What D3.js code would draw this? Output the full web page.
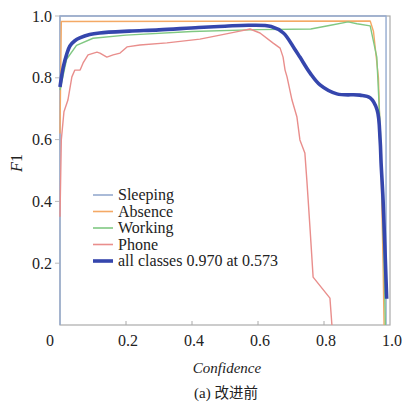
<!DOCTYPE html>
<html lang="en">
<meta charset="UTF-8">
<script src="https://d3js.org/d3.v7.min.js"></script>
<style>
body { margin: 0; background: #fff; }
svg text { font-family: 'Liberation Serif', serif !important; }
svg text tspan.cjk { font-family: 'Noto Sans CJK SC', sans-serif !important; }
</style>
<body>
<svg width="404" height="411" font-family="Liberation Serif"></svg>
<script>
// values: [confidence, F1]
const sleeping = [[0, 0], [0, 1.0], [0.988, 1.0], [0.988, 0]];
const absence = [[0, 0.62], [0.004, 0.982], [0.94, 0.984], [0.95, 0.95], [0.965, 0.8],
  [0.973, 0.5], [0.979, 0.2], [0.982, 0]];
const working = [[0, 0.76], [0.02, 0.86], [0.05, 0.905], [0.1, 0.928], [0.2, 0.938],
  [0.4, 0.95], [0.6, 0.956], [0.76, 0.958], [0.82, 0.97], [0.873, 0.981], [0.9, 0.975],
  [0.94, 0.968], [0.96, 0.867], [0.972, 0.6], [0.982, 0.2], [0.986, 0]];
const phone = [[0, 0.35], [0.004, 0.6], [0.012, 0.69], [0.024, 0.728], [0.036, 0.803],
  [0.045, 0.825], [0.061, 0.825], [0.07, 0.848], [0.085, 0.874], [0.112, 0.883],
  [0.121, 0.88], [0.142, 0.867], [0.161, 0.874], [0.182, 0.88], [0.203, 0.9],
  [0.242, 0.906], [0.324, 0.913], [0.424, 0.925], [0.485, 0.938], [0.545, 0.951],
  [0.576, 0.958], [0.606, 0.945], [0.645, 0.913], [0.667, 0.896], [0.676, 0.867],
  [0.682, 0.825], [0.688, 0.803], [0.703, 0.728], [0.718, 0.673], [0.727, 0.599],
  [0.742, 0.557], [0.748, 0.469], [0.752, 0.405], [0.758, 0.307], [0.767, 0.155],
  [0.818, 0.087], [0.824, 0]];
const allClasses = [[0, 0.77], [0.01, 0.835], [0.02, 0.875], [0.03, 0.903], [0.045, 0.92],
  [0.06, 0.929], [0.09, 0.94], [0.12, 0.945], [0.21, 0.951], [0.3, 0.955], [0.42, 0.963],
  [0.5, 0.967], [0.573, 0.970], [0.64, 0.966], [0.677, 0.945], [0.71, 0.895],
  [0.727, 0.867], [0.758, 0.815], [0.788, 0.777], [0.839, 0.748], [0.909, 0.744],
  [0.94, 0.735], [0.961, 0.696], [0.97, 0.599], [0.973, 0.524], [0.979, 0.405],
  [0.99, 0.085]];

const seriesNames = ['Sleeping', 'Absence', 'Working', 'Phone', 'all classes 0.970 at 0.573'];
const seriesData = [sleeping, absence, working, phone, allClasses];
const colors = ['#95abcf', '#f4a965', '#80c882', '#e98e8c', '#3546ad'];
const widths = [1.4, 1.4, 1.4, 1.4, 3.6];

const xTicks = [0, 0.2, 0.4, 0.6, 0.8, 1.0];
const yTicks = [0.2, 0.4, 0.6, 0.8, 1.0];

const svg = d3.select('svg');
const x = d3.scaleLinear().domain([0, 1]).range([60, 390]);
const y = d3.scaleLinear().domain([0, 1]).range([325, 16]);

// frame
svg.append('rect')
  .attr('x', x(0)).attr('y', y(1))
  .attr('width', x(1) - x(0)).attr('height', y(0) - y(1))
  .attr('fill', 'none').attr('stroke', '#aaa').attr('stroke-width', 1.2);

// x ticks (inside)
svg.append('g').selectAll('line').data(xTicks.slice(1, 5)).join('line')
  .attr('x1', d => x(d)).attr('x2', d => x(d))
  .attr('y1', y(0)).attr('y2', y(0) - 4)
  .attr('stroke', '#aaa');
svg.append('g').selectAll('text').data(xTicks).join('text')
  .attr('x', d => d === 0 ? x(d) - 10 : x(d) + 2)
  .attr('y', 346)
  .attr('text-anchor', 'middle')
  .attr('font-size', 16)
  .attr('fill', '#222')
  .text(d => d === 0 ? '0' : d3.format('.1f')(d));

// y ticks (outside)
svg.append('g').selectAll('line').data(yTicks).join('line')
  .attr('x1', x(0) - 5).attr('x2', x(0))
  .attr('y1', d => y(d)).attr('y2', d => y(d))
  .attr('stroke', '#bbb');
svg.append('g').selectAll('text').data(yTicks).join('text')
  .attr('x', 52)
  .attr('y', d => y(d) + 5.5)
  .attr('text-anchor', 'end')
  .attr('font-size', 16)
  .attr('fill', '#222')
  .text(d => d3.format('.1f')(d));

// curves
const line = d3.line().x(d => x(d[0])).y(d => y(d[1]));
const smooth = d3.line().x(d => x(d[0])).y(d => y(d[1])).curve(d3.curveCatmullRom);
svg.append('g').selectAll('path').data(seriesData).join('path')
  .attr('d', (d, i) => i === 4 ? smooth(d) : line(d))
  .attr('fill', 'none')
  .attr('stroke', (d, i) => colors[i])
  .attr('stroke-width', (d, i) => widths[i])
  .attr('stroke-linejoin', 'round');

// legend
const legend = svg.append('g');
seriesNames.forEach((name, i) => {
  const ly = 195 + i * 16.5;
  legend.append('line')
    .attr('x1', 93).attr('x2', 113).attr('y1', ly).attr('y2', ly)
    .attr('stroke', colors[i]).attr('stroke-width', i === 4 ? 3.6 : 1.6);
  legend.append('text')
    .attr('x', 118).attr('y', ly + 5)
    .attr('font-size', 16)
    .attr('fill', '#222')
    .text(name);
});

// axis titles
svg.append('text')
  .attr('x', 227).attr('y', 373)
  .attr('text-anchor', 'middle')
  .attr('font-size', 15)
  .attr('font-style', 'italic')
  .attr('fill', '#222')
  .text('Confidence');

const yt = svg.append('text')
  .attr('transform', 'translate(22,163) rotate(-90)')
  .attr('text-anchor', 'middle')
  .attr('font-size', 16)
  .attr('fill', '#222');
yt.append('tspan').attr('font-style', 'italic').text('F');
yt.append('tspan').text('1');

const cap = svg.append('text')
  .attr('x', 226).attr('y', 398)
  .attr('text-anchor', 'middle')
  .attr('font-size', 15)
  .attr('fill', '#222');
cap.append('tspan').text('(a) ');
cap.append('tspan').attr('class', 'cjk').attr('font-size', 14.5).text('改进前');
</script>
</body>
</html>
